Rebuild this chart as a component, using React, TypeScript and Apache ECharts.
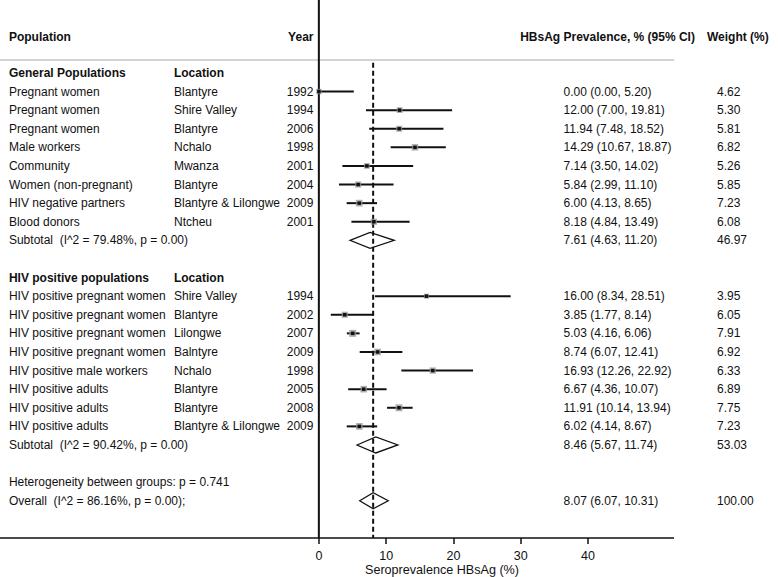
import React, { useEffect, useRef } from "react";
import * as echarts from "echarts";

// ---------- data ----------
const populations1 = ["Pregnant women", "Pregnant women", "Pregnant women", "Male workers", "Community", "Women (non-pregnant)", "HIV negative partners", "Blood donors"];
const locations1 = ["Blantyre", "Shire Valley", "Blantyre", "Nchalo", "Mwanza", "Blantyre", "Blantyre & Lilongwe", "Ntcheu"];
const years1 = [1992, 1994, 2006, 1998, 2001, 2004, 2009, 2001];
const est1 = [0.0, 12.0, 11.94, 14.29, 7.14, 5.84, 6.0, 8.18];
const lo1 = [0.0, 7.0, 7.48, 10.67, 3.5, 2.99, 4.13, 4.84];
const hi1 = [5.2, 19.81, 18.52, 18.87, 14.02, 11.1, 8.65, 13.49];
const w1 = [4.62, 5.3, 5.81, 6.82, 5.26, 5.85, 7.23, 6.08];
const subtotal1 = { label: "Subtotal  (I^2 = 79.48%, p = 0.00)", est: 7.61, lo: 4.63, hi: 11.2, w: 46.97 };

const populations2 = ["HIV positive pregnant women", "HIV positive pregnant women", "HIV positive pregnant women", "HIV positive pregnant women", "HIV positive male workers", "HIV positive adults", "HIV positive adults", "HIV positive adults"];
const locations2 = ["Shire Valley", "Blantyre", "Lilongwe", "Balntyre", "Nchalo", "Blantyre", "Blantyre", "Blantyre & Lilongwe"];
const years2 = [1994, 2002, 2007, 2009, 1998, 2005, 2008, 2009];
const est2 = [16.0, 3.85, 5.03, 8.74, 16.93, 6.67, 11.91, 6.02];
const lo2 = [8.34, 1.77, 4.16, 6.07, 12.26, 4.36, 10.14, 4.14];
const hi2 = [28.51, 8.14, 6.06, 12.41, 22.92, 10.07, 13.94, 8.67];
const w2 = [3.95, 6.05, 7.91, 6.92, 6.33, 6.89, 7.75, 7.23];
const subtotal2 = { label: "Subtotal  (I^2 = 90.42%, p = 0.00)", est: 8.46, lo: 5.67, hi: 11.74, w: 53.03 };

const heterogeneityText = "Heterogeneity between groups: p = 0.741";
const overall = { label: "Overall  (I^2 = 86.16%, p = 0.00);", est: 8.07, lo: 6.07, hi: 10.31, w: 100.0 };

const headers = { population: "Population", year: "Year", ci: "HBsAg Prevalence, % (95% CI)", weight: "Weight (%)" };
const groupTitles = ["General Populations", "HIV positive populations"];
const locationHeader = "Location";
const tickValues = [0, 10, 20, 30, 40];
const axisTitle = "Seroprevalence HBsAg (%)";

// ---------- layout (axis units) ----------
const PX_PER_UNIT = 6.727;
const X_MIN = -47.4;
const X_MAX = X_MIN + 778 / PX_PER_UNIT;
const X_LINE_END = 52.8;
const Y_MIN = -3.92;
const Y_MAX = 25;
const COL_POP = -46.07;
const COL_LOC = -21.54;
const COL_YEAR = -0.8;
const COL_CI = 36.36;
const COL_CI_HEAD_RIGHT = 55.9;
const COL_W = 59.18;
const COL_W_HEAD = 57.69;
const HEADER_ROW = -1.935;
const FONT = '"Liberation Sans", Arial, Helvetica, sans-serif';

type TextItem = { x: number; y: number; text: string; bold?: boolean; align?: string };
type Study = { est: number; lo: number; hi: number; w: number; row: number };

const fmt = (v: number) => v.toFixed(2);
const ciText = (e: number, l: number, h: number) => `${fmt(e)} (${fmt(l)}, ${fmt(h)})`;

function buildTable() {
  const texts: TextItem[] = [];
  const studies: Study[] = [];
  const diamonds: Study[] = [];
  texts.push({ x: COL_POP, y: HEADER_ROW, text: headers.population, bold: true });
  texts.push({ x: COL_YEAR, y: HEADER_ROW, text: headers.year, bold: true, align: "right" });
  texts.push({ x: COL_CI_HEAD_RIGHT, y: HEADER_ROW, text: headers.ci, bold: true, align: "right" });
  texts.push({ x: COL_W_HEAD, y: HEADER_ROW, text: headers.weight, bold: true });

  const groups = [
    { pops: populations1, locs: locations1, years: years1, est: est1, lo: lo1, hi: hi1, w: w1, sub: subtotal1 },
    { pops: populations2, locs: locations2, years: years2, est: est2, lo: lo2, hi: hi2, w: w2, sub: subtotal2 },
  ];
  let row = 0;
  groups.forEach((g, gi) => {
    texts.push({ x: COL_POP, y: row, text: groupTitles[gi], bold: true });
    texts.push({ x: COL_LOC, y: row, text: locationHeader, bold: true });
    row++;
    g.pops.forEach((p, i) => {
      texts.push({ x: COL_POP, y: row, text: p });
      texts.push({ x: COL_LOC, y: row, text: g.locs[i] });
      texts.push({ x: COL_YEAR, y: row, text: String(g.years[i]), align: "right" });
      texts.push({ x: COL_CI, y: row, text: ciText(g.est[i], g.lo[i], g.hi[i]) });
      texts.push({ x: COL_W, y: row, text: fmt(g.w[i]) });
      studies.push({ est: g.est[i], lo: g.lo[i], hi: g.hi[i], w: g.w[i], row });
      row++;
    });
    texts.push({ x: COL_POP, y: row, text: g.sub.label });
    texts.push({ x: COL_CI, y: row, text: ciText(g.sub.est, g.sub.lo, g.sub.hi) });
    texts.push({ x: COL_W, y: row, text: fmt(g.sub.w) });
    diamonds.push({ est: g.sub.est, lo: g.sub.lo, hi: g.sub.hi, w: g.sub.w, row });
    row += 2;
  });
  texts.push({ x: COL_POP, y: row, text: heterogeneityText });
  row++;
  texts.push({ x: COL_POP, y: row, text: overall.label });
  texts.push({ x: COL_CI, y: row, text: ciText(overall.est, overall.lo, overall.hi) });
  texts.push({ x: COL_W, y: row, text: fmt(overall.w) });
  diamonds.push({ est: overall.est, lo: overall.lo, hi: overall.hi, w: overall.w, row });
  return { texts, studies, diamonds };
}

export default function App() {
  const ref = useRef<HTMLDivElement>(null);
  useEffect(() => {
    if (!ref.current) return;
    const chart = echarts.init(ref.current, undefined, { renderer: "svg" });
    const { texts, studies, diamonds } = buildTable();

    const option: any = {
      animation: false,
      backgroundColor: "#ffffff",
      grid: { left: 0, right: 0, top: 0, bottom: 39, containLabel: false },
      xAxis: {
        type: "value",
        min: X_MIN,
        max: X_MAX,
        axisLine: { show: false, onZero: false },
        splitLine: { show: false },
        axisTick: { show: true, customValues: tickValues, length: 6, lineStyle: { color: "#111", width: 1.5 } },
        axisLabel: { show: true, customValues: tickValues, color: "#111", fontSize: 12.5, fontFamily: FONT, margin: 11 },
      },
      yAxis: { type: "value", inverse: true, min: Y_MIN, max: Y_MAX, show: false },
      graphic: [
        {
          type: "text",
          x: 442,
          y: 570,
          style: { text: axisTitle, fill: "#111", font: `12.6px ${FONT}`, textAlign: "center", textVerticalAlign: "middle", align: "center", verticalAlign: "middle" },
        },
      ],
      series: [
        {
          type: "custom",
          name: "frame",
          clip: false,
          silent: true,
          data: [[overall.est]],
          renderItem: (_p: any, api: any) => {
            const top = api.coord([0, Y_MIN]);
            const bot = api.coord([0, Y_MAX]);
            const dTop = api.coord([overall.est, -0.55]);
            const dBot = api.coord([overall.est, Y_MAX]);
            const gl = api.coord([X_MIN, -0.7]);
            const gr = api.coord([X_LINE_END, -0.7]);
            const al = api.coord([X_MIN, Y_MAX]);
            const ar = api.coord([X_LINE_END, Y_MAX]);
            return {
              type: "group",
              children: [
                { type: "line", shape: { x1: gl[0], y1: gl[1], x2: gr[0], y2: gr[1] }, style: { stroke: "#c4c4c4", lineWidth: 1.5 } },
                { type: "line", shape: { x1: al[0], y1: al[1], x2: ar[0], y2: ar[1] }, style: { stroke: "#111", lineWidth: 1.5 } },
                { type: "line", shape: { x1: top[0], y1: top[1], x2: bot[0], y2: bot[1] }, style: { stroke: "#111", lineWidth: 2 } },
                { type: "line", shape: { x1: dTop[0], y1: dTop[1], x2: dBot[0], y2: dBot[1] }, style: { stroke: "#111", lineWidth: 2, lineDash: [5, 3] } },
              ],
            };
          },
        },
        {
          type: "custom",
          name: "studies",
          clip: false,
          silent: true,
          data: studies.map((s) => [s.est, s.lo, s.hi, s.row, s.w]),
          renderItem: (_p: any, api: any) => {
            const est = api.value(0), lo = api.value(1), hi = api.value(2), row = api.value(3), w = api.value(4);
            const pe = api.coord([est, row]);
            const pl = api.coord([lo, row]);
            const ph = api.coord([hi, row]);
            const s = 2.5 * Math.sqrt(w);
            return {
              type: "group",
              children: [
                { type: "line", shape: { x1: pl[0], y1: pl[1], x2: ph[0], y2: ph[1] }, style: { stroke: "#111", lineWidth: 2 } },
                { type: "rect", shape: { x: pe[0] - s / 2, y: pe[1] - s / 2, width: s, height: s }, style: { fill: "rgba(150,150,150,0.75)" } },
                { type: "rect", shape: { x: pe[0] - 1.75, y: pe[1] - 1.75, width: 3.5, height: 3.5 }, style: { fill: "#111" } },
              ],
            };
          },
        },
        {
          type: "custom",
          name: "diamonds",
          clip: false,
          silent: true,
          data: diamonds.map((d) => [d.est, d.lo, d.hi, d.row]),
          renderItem: (_p: any, api: any) => {
            const est = api.value(0), lo = api.value(1), hi = api.value(2), row = api.value(3);
            const pe = api.coord([est, row]);
            const pl = api.coord([lo, row]);
            const ph = api.coord([hi, row]);
            const h = 8;
            return {
              type: "polygon",
              shape: { points: [[pl[0], pl[1]], [pe[0], pe[1] - h], [ph[0], ph[1]], [pe[0], pe[1] + h]] },
              style: { fill: "none", stroke: "#111", lineWidth: 1.3 },
            };
          },
        },
        {
          type: "custom",
          name: "table",
          clip: false,
          silent: true,
          data: texts.map((t) => [t.x, t.y]),
          renderItem: (p: any, api: any) => {
            const t = texts[p.dataIndex];
            const pt = api.coord([api.value(0), api.value(1)]);
            const align = t.align || "left";
            return {
              type: "text",
              x: pt[0],
              y: pt[1],
              style: {
                text: t.text,
                fill: "#111",
                font: `${t.bold ? "bold " : ""}12px ${FONT}`,
                textAlign: align,
                align,
                textVerticalAlign: "middle",
                verticalAlign: "middle",
              },
            };
          },
        },
      ],
    };
    chart.setOption(option);
    return () => chart.dispose();
  }, []);
  return <div ref={ref} style={{ width: 778, height: 577, position: "fixed", left: 0, top: 0, background: "#fff" }} />;
}
